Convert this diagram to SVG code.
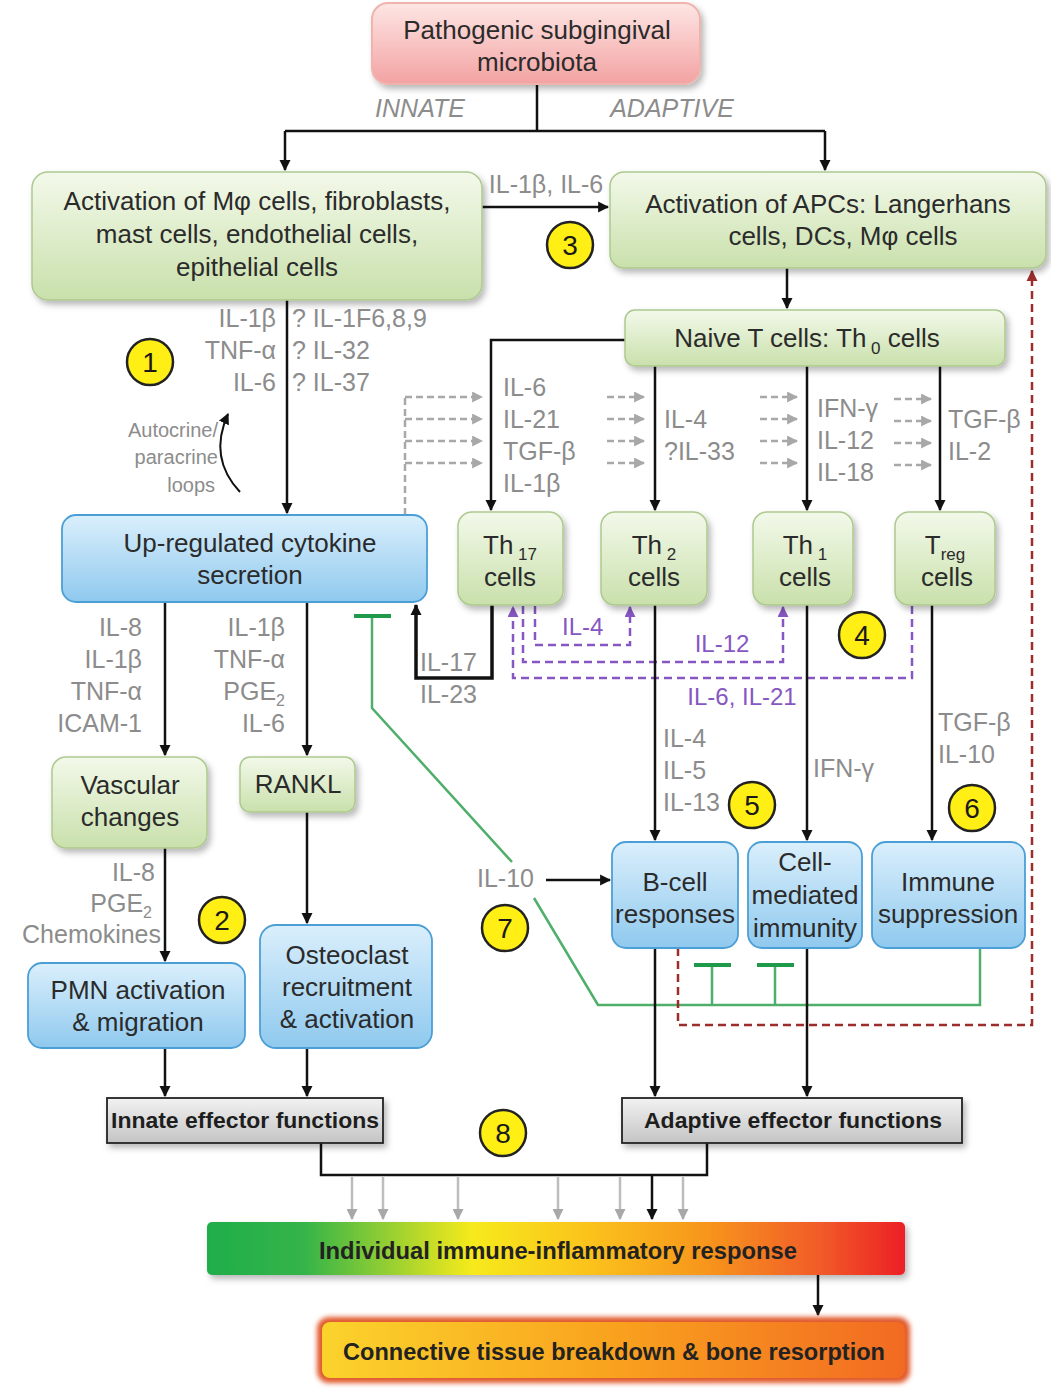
<svg xmlns="http://www.w3.org/2000/svg" width="1051" height="1390" viewBox="0 0 1051 1390">
<defs>
<linearGradient id="gGreen" x1="0" y1="0" x2="0" y2="1"><stop offset="0" stop-color="#f3f9ea"/><stop offset="1" stop-color="#c9e0ab"/></linearGradient>
<linearGradient id="gBlue" x1="0" y1="0" x2="0" y2="1"><stop offset="0" stop-color="#daeffc"/><stop offset="1" stop-color="#8fc9ee"/></linearGradient>
<linearGradient id="gPink" x1="0" y1="0" x2="0" y2="1"><stop offset="0" stop-color="#fde6e4"/><stop offset="1" stop-color="#f3a2a2"/></linearGradient>
<linearGradient id="gGray" x1="0" y1="0" x2="0" y2="1"><stop offset="0" stop-color="#f2f2f2"/><stop offset="1" stop-color="#c4c4c4"/></linearGradient>
<linearGradient id="gHeat" x1="0" y1="0" x2="1" y2="0"><stop offset="0" stop-color="#1fae4b"/><stop offset="0.14" stop-color="#35b448"/><stop offset="0.38" stop-color="#f6ea1c"/><stop offset="0.55" stop-color="#fbc21a"/><stop offset="0.72" stop-color="#f7941d"/><stop offset="0.88" stop-color="#f15a29"/><stop offset="1" stop-color="#ec1f26"/></linearGradient>
<linearGradient id="gOrange" x1="0" y1="0" x2="1" y2="0"><stop offset="0" stop-color="#fbd32c"/><stop offset="0.5" stop-color="#f9a21e"/><stop offset="1" stop-color="#f26a22"/></linearGradient>
<filter id="sh" x="-10%" y="-10%" width="125%" height="135%"><feDropShadow dx="3" dy="4" stdDeviation="3" flood-color="#000" flood-opacity="0.28"/></filter>
<filter id="glow" x="-5%" y="-20%" width="110%" height="140%"><feGaussianBlur stdDeviation="2.5"/></filter>
<marker id="arr" viewBox="0 0 10 10" refX="9" refY="5" markerWidth="11" markerHeight="12" markerUnits="userSpaceOnUse" orient="auto"><path d="M0,0 L10,5 L0,10 z" fill="#111"/></marker>
<marker id="arrg" viewBox="0 0 10 10" refX="9" refY="5" markerWidth="11" markerHeight="11" markerUnits="userSpaceOnUse" orient="auto"><path d="M0,0 L10,5 L0,10 z" fill="#a8a8a8"/></marker>
<marker id="arrp" viewBox="0 0 10 10" refX="9" refY="5" markerWidth="11" markerHeight="11" markerUnits="userSpaceOnUse" orient="auto"><path d="M0,0 L10,5 L0,10 z" fill="#8657c2"/></marker>
<marker id="arrr" viewBox="0 0 10 10" refX="9" refY="5" markerWidth="11" markerHeight="12" markerUnits="userSpaceOnUse" orient="auto"><path d="M0,0 L10,5 L0,10 z" fill="#9b2d2d"/></marker>
</defs>
<style>
text{font-family:"Liberation Sans",Arial,sans-serif}
.bt{font-size:26px;fill:#2b2b2b;text-anchor:middle}
.lb{font-size:25px;fill:#8c8c8c}
.lbr{font-size:25px;fill:#8c8c8c;text-anchor:end}
.pl{font-size:24px;fill:#8657c2}
.green{fill:url(#gGreen);stroke:#adc98f;stroke-width:1.5}
.blue{fill:url(#gBlue);stroke:#4c9fd6;stroke-width:1.8}
.gray{fill:url(#gGray);stroke:#222;stroke-width:1.8}
.ln{fill:none;stroke:#111;stroke-width:2.5}
.ga{fill:none;stroke:#a8a8a8;stroke-width:2.5;stroke-dasharray:7,4}
.gv{fill:none;stroke:#bdbdbd;stroke-width:2.5}
.pd{fill:none;stroke:#8657c2;stroke-width:2.5;stroke-dasharray:8,5}
.rd{fill:none;stroke:#9b2d2d;stroke-width:2.5;stroke-dasharray:8,5}
.gr{fill:none;stroke:#4fae6a;stroke-width:2.5}
.grb{fill:none;stroke:#1f9a4a;stroke-width:4}
.num{fill:#ffef14;stroke:#222;stroke-width:2.5}
.nt{font-size:28px;fill:#1a1a1a;text-anchor:middle}
.eb{font-size:22px;font-weight:bold;fill:#1e1e1e;text-anchor:middle}
</style>

<g id="connectors">
<!-- top split -->
<path class="ln" d="M537,84 V131"/>
<path class="ln" d="M285,131 H825"/>
<path class="ln" d="M285,131 V170" marker-end="url(#arr)"/>
<path class="ln" d="M825,131 V170" marker-end="url(#arr)"/>
<!-- innate to APC -->
<path class="ln" d="M482,207 H608" marker-end="url(#arr)"/>
<!-- innate down to cytokine -->
<path class="ln" d="M287,300 V513" marker-end="url(#arr)"/>
<!-- autocrine loop -->
<path d="M240,492 Q208,458 228,414" fill="none" stroke="#111" stroke-width="2" marker-end="url(#arr)"/>
<!-- APC to naive -->
<path class="ln" d="M787,268 V308" marker-end="url(#arr)"/>
<!-- naive to Th subsets -->
<path class="ln" d="M625,340 H491 V510" marker-end="url(#arr)"/>
<path class="ln" d="M655,366 V510" marker-end="url(#arr)"/>
<path class="ln" d="M807,366 V510" marker-end="url(#arr)"/>
<path class="ln" d="M940,366 V510" marker-end="url(#arr)"/>
<!-- gray dashed cytokine feed -->
<path class="ga" d="M405,515 V397"/>
<path class="ga" d="M405,397 H482" marker-end="url(#arrg)"/>
<path class="ga" d="M405,419 H482" marker-end="url(#arrg)"/>
<path class="ga" d="M405,441 H482" marker-end="url(#arrg)"/>
<path class="ga" d="M405,463 H482" marker-end="url(#arrg)"/>
<path class="ga" d="M607,397 H644" marker-end="url(#arrg)"/>
<path class="ga" d="M607,419 H644" marker-end="url(#arrg)"/>
<path class="ga" d="M607,441 H644" marker-end="url(#arrg)"/>
<path class="ga" d="M607,463 H644" marker-end="url(#arrg)"/>
<path class="ga" d="M760,397 H797" marker-end="url(#arrg)"/>
<path class="ga" d="M760,419 H797" marker-end="url(#arrg)"/>
<path class="ga" d="M760,441 H797" marker-end="url(#arrg)"/>
<path class="ga" d="M760,463 H797" marker-end="url(#arrg)"/>
<path class="ga" d="M894,399 H931" marker-end="url(#arrg)"/>
<path class="ga" d="M894,421 H931" marker-end="url(#arrg)"/>
<path class="ga" d="M894,443 H931" marker-end="url(#arrg)"/>
<path class="ga" d="M894,465 H931" marker-end="url(#arrg)"/>
<!-- Th17 feedback IL-17/IL-23 -->
<path d="M492,605 V678 H416 V605" fill="none" stroke="#111" stroke-width="3.5" marker-end="url(#arr)"/>
<!-- purple cross-regulation -->
<path class="pd" d="M535,606 V645 H630 V607" marker-end="url(#arrp)"/>
<path class="pd" d="M523,606 V662 H783 V607" marker-end="url(#arrp)"/>
<path class="pd" d="M912,606 V678 H513 V607" marker-end="url(#arrp)"/>
<!-- Th subsets to effector boxes -->
<path class="ln" d="M655,605 V840" marker-end="url(#arr)"/>
<path class="ln" d="M807,605 V840" marker-end="url(#arr)"/>
<path class="ln" d="M932,605 V840" marker-end="url(#arr)"/>
<!-- cytokine to vascular & RANKL -->
<path class="ln" d="M165,602 V755" marker-end="url(#arr)"/>
<path class="ln" d="M307,602 V755" marker-end="url(#arr)"/>
<path class="ln" d="M165,848 V961" marker-end="url(#arr)"/>
<path class="ln" d="M307,812 V923" marker-end="url(#arr)"/>
<!-- IL-10 to B-cell -->
<path class="ln" d="M546,880 H610" marker-end="url(#arr)"/>
<!-- green inhibition -->
<path class="gr" d="M980,948 V1005 H598 L534,898"/>
<path class="gr" d="M512,862 L372,708 V617"/>
<path class="grb" d="M354,616 H391"/>
<path class="gr" d="M712,1005 V966"/>
<path class="grb" d="M694,965 H731"/>
<path class="gr" d="M775,1005 V966"/>
<path class="grb" d="M757,965 H794"/>
<!-- red dashed feedback to APCs -->
<path class="rd" d="M678,948 V1025 H1032 V271" marker-end="url(#arrr)"/>
<!-- to effector functions -->
<path class="ln" d="M165,1048 V1096" marker-end="url(#arr)"/>
<path class="ln" d="M307,1048 V1096" marker-end="url(#arr)"/>
<path class="ln" d="M655,948 V1096" marker-end="url(#arr)"/>
<path class="ln" d="M807,948 V1096" marker-end="url(#arr)"/>
<!-- effector to individual response -->
<path class="ln" d="M321,1143 V1175 H707 V1143"/>
<path class="gv" d="M352,1177 V1219" marker-end="url(#arrg)"/>
<path class="gv" d="M383,1177 V1219" marker-end="url(#arrg)"/>
<path class="gv" d="M458,1177 V1219" marker-end="url(#arrg)"/>
<path class="gv" d="M558,1177 V1219" marker-end="url(#arrg)"/>
<path class="gv" d="M620,1177 V1219" marker-end="url(#arrg)"/>
<path class="gv" d="M683,1177 V1219" marker-end="url(#arrg)"/>
<path class="ln" d="M652,1175 V1219" marker-end="url(#arr)"/>
<path class="ln" d="M818,1275 V1315" marker-end="url(#arr)"/>
</g>

<g id="edge-labels">
<text class="lb" x="420" y="117" text-anchor="middle" font-style="italic">INNATE</text>
<text class="lb" x="672" y="117" text-anchor="middle" font-style="italic">ADAPTIVE</text>
<text class="lb" x="546" y="193" text-anchor="middle" font-size="23">IL-1β, IL-6</text>
<text class="lbr" x="276" y="327">IL-1β</text>
<text class="lbr" x="276" y="359">TNF-α</text>
<text class="lbr" x="276" y="391">IL-6</text>
<text class="lb" x="292" y="327">? IL-1F6,8,9</text>
<text class="lb" x="292" y="359">? IL-32</text>
<text class="lb" x="292" y="391">? IL-37</text>
<text x="218" y="437" font-size="20" fill="#8c8c8c" text-anchor="end">Autocrine/</text>
<text x="218" y="464" font-size="20" fill="#8c8c8c" text-anchor="end">paracrine</text>
<text x="215" y="492" font-size="20" fill="#8c8c8c" text-anchor="end">loops</text>
<text class="lb" x="503" y="396">IL-6</text>
<text class="lb" x="503" y="428">IL-21</text>
<text class="lb" x="503" y="460">TGF-β</text>
<text class="lb" x="503" y="492">IL-1β</text>
<text class="lb" x="664" y="428">IL-4</text>
<text class="lb" x="664" y="460">?IL-33</text>
<text class="lb" x="817" y="417">IFN-γ</text>
<text class="lb" x="817" y="449">IL-12</text>
<text class="lb" x="817" y="481">IL-18</text>
<text class="lb" x="948" y="428">TGF-β</text>
<text class="lb" x="948" y="460">IL-2</text>
<text class="lb" x="420" y="671">IL-17</text>
<text class="lb" x="420" y="703">IL-23</text>
<text class="pl" x="562" y="635">IL-4</text>
<text class="pl" x="722" y="652" text-anchor="middle">IL-12</text>
<text class="pl" x="742" y="705" text-anchor="middle">IL-6, IL-21</text>
<text class="lbr" x="142" y="636">IL-8</text>
<text class="lbr" x="142" y="668">IL-1β</text>
<text class="lbr" x="142" y="700">TNF-α</text>
<text class="lbr" x="142" y="732">ICAM-1</text>
<text class="lbr" x="285" y="636">IL-1β</text>
<text class="lbr" x="285" y="668">TNF-α</text>
<text class="lbr" x="285" y="700">PGE<tspan font-size="16" dy="6">2</tspan></text>
<text class="lbr" x="285" y="732">IL-6</text>
<text class="lb" x="663" y="747">IL-4</text>
<text class="lb" x="663" y="779">IL-5</text>
<text class="lb" x="663" y="811">IL-13</text>
<text class="lb" x="813" y="777">IFN-γ</text>
<text class="lb" x="938" y="731">TGF-β</text>
<text class="lb" x="938" y="763">IL-10</text>
<text class="lbr" x="155" y="881">IL-8</text>
<text class="lbr" x="152" y="912">PGE<tspan font-size="16" dy="6">2</tspan></text>
<text class="lbr" x="161" y="943">Chemokines</text>
<text class="lb" x="477" y="887">IL-10</text>
</g>

<g id="node-microbiota">
<rect x="372" y="3" width="328" height="81" rx="16" fill="url(#gPink)" stroke="#efb4ae" stroke-width="2" filter="url(#sh)"/>
<text class="bt" x="537" y="39">Pathogenic subgingival</text>
<text class="bt" x="537" y="71">microbiota</text>
</g>
<g id="node-innate-activation">
<rect x="32" y="172" width="450" height="128" rx="16" class="green" filter="url(#sh)"/>
<text class="bt" x="257" y="210">Activation of Mφ cells, fibroblasts,</text>
<text class="bt" x="257" y="243">mast cells, endothelial cells,</text>
<text class="bt" x="257" y="276">epithelial cells</text>
</g>
<g id="node-apc">
<rect x="610" y="172" width="436" height="96" rx="14" class="green" filter="url(#sh)"/>
<text class="bt" x="828" y="213">Activation of APCs: Langerhans</text>
<text class="bt" x="843" y="245">cells, DCs, Mφ cells</text>
</g>
<g id="node-naive">
<rect x="625" y="310" width="380" height="56" rx="10" class="green" filter="url(#sh)"/>
<text class="bt" x="807" y="347">Naive T cells: Th<tspan font-size="17" dy="7"> 0</tspan><tspan dy="-7"> cells</tspan></text>
</g>
<g id="node-th17">
<rect x="458" y="512" width="105" height="93" rx="14" class="green" filter="url(#sh)"/>
<text class="bt" x="510" y="554">Th<tspan font-size="17" dy="6"> 17</tspan></text>
<text class="bt" x="510" y="586">cells</text>
</g>
<g id="node-th2">
<rect x="601" y="512" width="106" height="93" rx="14" class="green" filter="url(#sh)"/>
<text class="bt" x="654" y="554">Th<tspan font-size="17" dy="6"> 2</tspan></text>
<text class="bt" x="654" y="586">cells</text>
</g>
<g id="node-th1">
<rect x="753" y="512" width="100" height="93" rx="14" class="green" filter="url(#sh)"/>
<text class="bt" x="805" y="554">Th<tspan font-size="17" dy="6"> 1</tspan></text>
<text class="bt" x="805" y="586">cells</text>
</g>
<g id="node-treg">
<rect x="895" y="512" width="100" height="93" rx="14" class="green" filter="url(#sh)"/>
<text class="bt" x="945" y="554">T<tspan font-size="17" dy="6">reg</tspan></text>
<text class="bt" x="947" y="586">cells</text>
</g>
<g id="node-cytokine">
<rect x="62" y="515" width="365" height="87" rx="14" class="blue"/>
<text class="bt" x="250" y="552">Up-regulated cytokine</text>
<text class="bt" x="250" y="584">secretion</text>
</g>
<g id="node-vascular">
<rect x="52" y="757" width="155" height="91" rx="14" class="green" filter="url(#sh)"/>
<text class="bt" x="130" y="794">Vascular</text>
<text class="bt" x="130" y="826">changes</text>
</g>
<g id="node-rankl">
<rect x="240" y="757" width="115" height="55" rx="10" class="green" filter="url(#sh)"/>
<text class="bt" x="298" y="793">RANKL</text>
</g>
<g id="node-pmn">
<rect x="28" y="963" width="217" height="85" rx="14" class="blue"/>
<text class="bt" x="138" y="999">PMN activation</text>
<text class="bt" x="138" y="1031">&amp; migration</text>
</g>
<g id="node-osteoclast">
<rect x="260" y="925" width="172" height="123" rx="16" class="blue"/>
<text class="bt" x="347" y="964">Osteoclast</text>
<text class="bt" x="347" y="996">recruitment</text>
<text class="bt" x="347" y="1028">&amp; activation</text>
</g>
<g id="node-bcell">
<rect x="612" y="842" width="126" height="106" rx="14" class="blue"/>
<text class="bt" x="675" y="891">B-cell</text>
<text class="bt" x="675" y="923">responses</text>
</g>
<g id="node-cellmediated">
<rect x="748" y="842" width="114" height="106" rx="14" class="blue"/>
<text class="bt" x="805" y="871">Cell-</text>
<text class="bt" x="805" y="904">mediated</text>
<text class="bt" x="805" y="937">immunity</text>
</g>
<g id="node-suppression">
<rect x="872" y="842" width="153" height="106" rx="14" class="blue"/>
<text class="bt" x="948" y="891">Immune</text>
<text class="bt" x="948" y="923">suppression</text>
</g>
<g id="node-innate-effector">
<rect x="107" y="1098" width="276" height="45" class="gray" filter="url(#sh)"/>
<text class="eb" x="245" y="1128" textLength="268" lengthAdjust="spacingAndGlyphs">Innate effector functions</text>
</g>
<g id="node-adaptive-effector">
<rect x="622" y="1098" width="340" height="45" class="gray" filter="url(#sh)"/>
<text class="eb" x="793" y="1128" textLength="298" lengthAdjust="spacingAndGlyphs">Adaptive effector functions</text>
</g>
<g id="node-individual-response">
<rect x="207" y="1222" width="698" height="53" rx="5" fill="url(#gHeat)" filter="url(#sh)"/>
<text x="558" y="1259" font-size="24" font-weight="bold" fill="#222" text-anchor="middle" textLength="478" lengthAdjust="spacingAndGlyphs">Individual immune-inflammatory response</text>
</g>
<g id="node-connective-tissue">
<rect x="317" y="1317" width="593" height="66" rx="12" fill="#e0592a" filter="url(#glow)"/>
<rect x="322" y="1322" width="583" height="56" rx="8" fill="url(#gOrange)"/>
<text x="614" y="1360" font-size="24" font-weight="bold" fill="#222" text-anchor="middle" textLength="542" lengthAdjust="spacingAndGlyphs">Connective tissue breakdown &amp; bone resorption</text>
</g>

<g id="step-markers">
<circle class="num" cx="150" cy="362" r="23"/><text class="nt" x="150" y="372">1</text>
<circle class="num" cx="222" cy="920" r="23"/><text class="nt" x="222" y="930">2</text>
<circle class="num" cx="570" cy="245" r="23"/><text class="nt" x="570" y="255">3</text>
<circle class="num" cx="862" cy="635" r="23"/><text class="nt" x="862" y="645">4</text>
<circle class="num" cx="752" cy="805" r="23"/><text class="nt" x="752" y="815">5</text>
<circle class="num" cx="972" cy="808" r="23"/><text class="nt" x="972" y="818">6</text>
<circle class="num" cx="505" cy="928" r="23"/><text class="nt" x="505" y="938">7</text>
<circle class="num" cx="503" cy="1133" r="23"/><text class="nt" x="503" y="1143">8</text>
</g>
</svg>
